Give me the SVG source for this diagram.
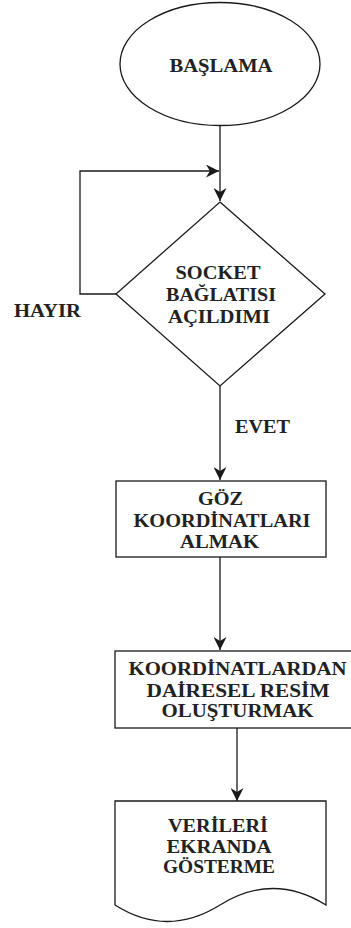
<svg xmlns="http://www.w3.org/2000/svg" width="351" height="928" viewBox="0 0 351 928">
<style>
.s{fill:#fff;stroke:#1a1a1a;stroke-width:1.3}
.c{fill:none;stroke:#1a1a1a;stroke-width:1.3}
.t{font-family:"Liberation Serif","DejaVu Serif","Times New Roman",serif;font-weight:bold;font-size:18px;fill:#222;text-anchor:middle}
</style>
<defs>
<marker id="ah" viewBox="0 0 10 10" refX="10" refY="5" markerWidth="13" markerHeight="13" markerUnits="userSpaceOnUse" orient="auto">
<path d="M0,0 L10,5 L0,10 L3,5 Z" fill="#1a1a1a"/>
</marker>
</defs>
<rect width="351" height="928" fill="#fff"/>
<g id="connectors">
<path class="c" d="M220,126 V201" marker-end="url(#ah)"/>
<path class="c" d="M116,294 H80 V171 H219" marker-end="url(#ah)"/>
<path class="c" d="M220,386 V480" marker-end="url(#ah)"/>
<path class="c" d="M220,557 V650" marker-end="url(#ah)"/>
<path class="c" d="M237,728 V801" marker-end="url(#ah)"/>
</g>
<g id="start">
<ellipse class="s" cx="220" cy="64" rx="100" ry="61.5"/>
<text class="t" x="221" y="72" textLength="103" lengthAdjust="spacingAndGlyphs">BAŞLAMA</text>
</g>
<g id="decision">
<path class="s" d="M220,202 L325,294 L220,386 L116,294 Z"/>
<text class="t" x="218" y="279" textLength="85" lengthAdjust="spacingAndGlyphs">SOCKET</text>
<text class="t" x="221" y="301" textLength="110" lengthAdjust="spacingAndGlyphs">BAĞLATISI</text>
<text class="t" x="219" y="323" textLength="102" lengthAdjust="spacingAndGlyphs">AÇILDIMI</text>
</g>
<g id="label-hayir">
<text class="t" x="47.5" y="317" textLength="67" lengthAdjust="spacingAndGlyphs">HAYIR</text>
</g>
<g id="label-evet">
<text class="t" x="262.5" y="433" textLength="55" lengthAdjust="spacingAndGlyphs">EVET</text>
</g>
<g id="process1">
<rect class="s" x="116" y="481" width="210" height="76"/>
<text class="t" x="220.5" y="505" textLength="45" lengthAdjust="spacingAndGlyphs">GÖZ</text>
<text class="t" x="222" y="527" textLength="177" lengthAdjust="spacingAndGlyphs">KOORDİNATLARI</text>
<text class="t" x="219.5" y="548" textLength="79" lengthAdjust="spacingAndGlyphs">ALMAK</text>
</g>
<g id="process2">
<rect class="s" x="115" y="651" width="244" height="77"/>
<text class="t" x="237.5" y="675" textLength="218" lengthAdjust="spacingAndGlyphs">KOORDİNATLARDAN</text>
<text class="t" x="238" y="697" textLength="183" lengthAdjust="spacingAndGlyphs">DAİRESEL RESİM</text>
<text class="t" x="237.5" y="717" textLength="152" lengthAdjust="spacingAndGlyphs">OLUŞTURMAK</text>
</g>
<g id="document">
<path class="s" d="M115,801 H326 V905 Q273,872 220,905 Q167,938 115,905 Z"/>
<text class="t" x="218" y="832" textLength="100" lengthAdjust="spacingAndGlyphs">VERİLERİ</text>
<text class="t" x="219" y="853" textLength="105" lengthAdjust="spacingAndGlyphs">EKRANDA</text>
<text class="t" x="219" y="873" textLength="112" lengthAdjust="spacingAndGlyphs">GÖSTERME</text>
</g>
</svg>
